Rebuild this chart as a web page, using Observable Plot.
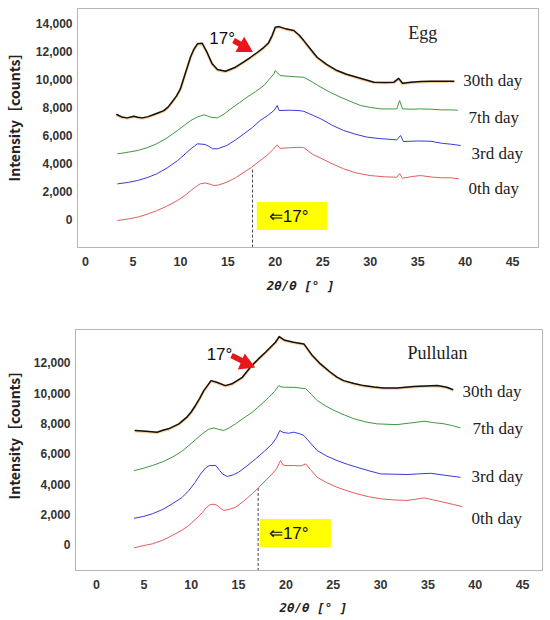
<!DOCTYPE html>
<html>
<head>
<meta charset="utf-8">
<script src="https://cdn.jsdelivr.net/npm/d3@7"></script>
<script src="https://cdn.jsdelivr.net/npm/@observablehq/plot@0.6"></script>
<style>
  body { margin: 0; background: #fff; }
  #wrap { position: relative; width: 550px; height: 620px; overflow: hidden; }
  #top, #bot { position: absolute; left: 0; }
  #top { top: 0; }
  #bot { top: 310px; }
</style>
</head>
<body>
<div id="wrap"><div id="top"></div><div id="bot"></div></div>
<script>
// ---------- data (2θ in degrees, intensity in counts, with stacking offsets as plotted) ----------
const xTicks = [0, 5, 10, 15, 20, 25, 30, 35, 40, 45];
const eggYTicks = [0, 2000, 4000, 6000, 8000, 10000, 12000, 14000];
const pulYTicks = [0, 2000, 4000, 6000, 8000, 10000, 12000];
const seriesNames = ["0th day", "3rd day", "7th day", "30th day"];

const egg0 = [[3.4,0],[4.5,110],[5.5,240],[6.5,450],[7.5,700],[8.5,1000],[9.7,1430],[10.5,1800],[11.1,2140],[11.7,2450],[12.1,2620],[12.6,2680],[13.0,2620],[13.5,2500],[14.0,2530],[14.9,2740],[15.8,3050],[16.7,3450],[17.5,3800],[18.4,4280],[19.2,4700],[19.8,5100],[20.2,5400],[20.5,5150],[21.5,5200],[22.5,5230],[23.0,5200],[24.0,4700],[24.8,4450],[26.0,4050],[27.2,3690],[28.5,3400],[30.0,3210],[31.5,3120],[32.8,3090],[33.1,3350],[33.4,3020],[34.5,3150],[35.3,3210],[36.5,3100],[37.5,3050],[38.5,3050],[39.3,2980]];
const egg3 = [[3.4,2620],[4.5,2720],[5.5,2860],[6.5,3060],[7.5,3330],[8.6,3750],[9.7,4280],[10.5,4750],[11.1,5120],[11.8,5480],[12.6,5430],[13.0,5300],[13.4,5120],[13.9,5120],[14.9,5360],[15.8,5750],[16.7,6190],[17.6,6650],[18.4,7140],[19.2,7500],[19.85,7850],[20.2,8210],[20.4,7850],[21.5,7880],[22.5,7850],[23.0,7800],[24.0,7500],[24.8,7260],[26.0,6800],[27.2,6430],[28.5,6150],[29.7,5950],[31.0,5850],[32.8,5760],[33.2,6070],[33.5,5640],[35.0,5680],[36.4,5660],[37.5,5520],[38.5,5450],[39.5,5360]];
const egg7 = [[3.4,4760],[4.5,4880],[5.5,5000],[6.5,5200],[7.5,5480],[8.6,5900],[9.7,6430],[10.5,6850],[11.1,7140],[11.8,7400],[12.5,7550],[13.2,7380],[13.9,7330],[14.6,7600],[15.3,7970],[16.2,8400],[17.0,8800],[17.9,9200],[18.8,9640],[19.5,10200],[19.85,10470],[20.0,10710],[20.5,10350],[21.5,10300],[22.5,10250],[23.0,10230],[24.0,9850],[24.8,9520],[25.8,9150],[26.9,8800],[28.0,8480],[29.0,8210],[30.0,8080],[31.1,7970],[32.8,7970],[33.1,8570],[33.4,7970],[34.5,7950],[35.3,7970],[36.5,7950],[37.5,7900],[38.5,7900],[39.2,7880]];
const egg30 = [[3.3,7570],[3.8,7400],[4.4,7330],[5.1,7450],[5.5,7380],[6.0,7330],[6.6,7420],[7.2,7570],[7.7,7700],[8.25,7850],[8.7,8100],[9.1,8450],[9.6,8900],[10.0,9400],[10.5,10470],[11.06,11660],[11.4,12200],[11.8,12620],[12.3,12660],[12.8,12020],[13.35,11190],[13.9,10780],[14.75,10660],[15.8,10950],[16.6,11300],[17.4,11660],[18.1,12000],[18.8,12370],[19.3,12700],[19.67,13210],[20.0,13800],[20.4,13850],[21.1,13690],[21.95,13570],[22.5,13250],[23.0,12850],[23.7,12250],[24.4,11660],[25.4,11150],[26.5,10710],[27.5,10450],[28.6,10230],[29.5,10050],[30.4,9880],[31.5,9860],[32.5,9880],[33.0,10150],[33.4,9800],[34.3,9880],[35.3,9920],[36.5,9950],[37.7,9950],[38.8,9950]];

const pul0 = [[4.0,-150],[5.0,0],[5.9,110],[7.0,350],[8.0,660],[9.0,1000],[9.75,1320],[10.5,1750],[11.2,2190],[11.6,2500],[12.0,2700],[12.4,2720],[12.74,2640],[13.1,2450],[13.44,2310],[14.0,2380],[14.68,2520],[15.5,2900],[16.44,3410],[17.14,3840],[17.8,4250],[18.55,4720],[19.0,5050],[19.43,5600],[19.7,5300],[20.0,5270],[20.8,5270],[21.6,5250],[22.1,5380],[22.6,5000],[23.3,4500],[24.3,4150],[25.4,3840],[26.5,3600],[27.5,3410],[28.7,3220],[30.0,3080],[31.5,3000],[32.8,2970],[33.7,3050],[34.6,3140],[35.6,3000],[36.7,2850],[37.7,2700],[38.6,2570]];
const pul3 = [[4.0,1800],[5.0,1920],[5.9,2090],[7.0,2380],[8.0,2750],[9.0,3150],[9.75,3620],[10.4,4150],[11.0,4720],[11.5,5100],[11.9,5270],[12.6,5270],[13.0,4950],[13.3,4720],[13.8,4550],[14.4,4650],[15.0,4830],[15.9,5250],[16.8,5710],[17.7,6200],[18.55,6700],[19.0,7100],[19.36,7580],[19.7,7450],[20.3,7400],[20.8,7470],[21.4,7380],[21.9,7250],[22.6,6750],[23.3,6260],[24.3,5900],[25.4,5600],[26.5,5350],[27.5,5160],[28.8,4920],[30.0,4720],[31.4,4700],[32.8,4680],[34.0,4720],[35.3,4760],[36.8,4630],[38.4,4500]];
const pul7 = [[4.0,4940],[5.0,5100],[5.9,5270],[7.0,5520],[8.0,5820],[9.0,6200],[9.75,6590],[10.5,7000],[11.16,7360],[11.8,7650],[12.4,7750],[12.9,7650],[13.44,7580],[14.0,7750],[14.68,8020],[15.5,8380],[16.44,8780],[17.3,9250],[18.2,9770],[18.8,10150],[19.25,10540],[19.5,10450],[20.0,10430],[20.8,10430],[21.5,10380],[22.1,10330],[22.7,9950],[23.3,9560],[24.2,9200],[25.1,8900],[26.2,8600],[27.2,8350],[28.4,8150],[29.6,8020],[30.7,7990],[31.75,7970],[33.2,8080],[34.6,8190],[35.6,8100],[36.7,8020],[37.6,7900],[38.4,7760]];
const pul30 = [[4.1,7580],[5.2,7530],[6.4,7470],[7.0,7600],[7.6,7690],[8.7,8020],[9.6,8500],[10.0,8800],[10.45,9230],[10.9,9700],[11.33,10210],[12.1,10870],[12.7,10760],[13.6,10540],[14.3,10660],[15.4,11090],[16.4,11860],[17.1,12300],[17.85,12740],[18.9,13400],[19.3,13770],[19.8,13550],[20.8,13400],[21.9,13290],[22.8,12520],[23.65,11970],[24.7,11420],[25.4,11100],[26.1,10870],[27.2,10680],[28.2,10540],[29.3,10450],[30.3,10390],[31.75,10390],[33.5,10480],[34.7,10520],[36.0,10540],[37.0,10430],[37.6,10280]];

const markerAngle = 17;           // the 17° annotation
const eggMarkX = 17.6, pulMarkX = 17.07;   // where the dashed guide is drawn in each panel

// ---------- drawing ----------
const colors = ["#e65b5b", "#3a3ad8", "#3f983f"];
const tickFont = "'Liberation Sans', Arial, sans-serif";
const serif = "'Liberation Serif', 'Times New Roman', serif";

function panel(p) {
  const X = d => d[0], Y = d => d[1];
  const lbl = p.labels;
  return Plot.plot({
    width: 550, height: p.height,
    marginLeft: p.ml, marginRight: p.mr, marginTop: p.mt, marginBottom: p.mb,
    style: {background: "#fff", overflow: "visible"},
    x: {domain: p.xd, label: null},
    y: {domain: p.yd, label: null},
    marks: [
      Plot.axisX({ticks: xTicks, tickSize: 0, tickPadding: 10, fontSize: 12.5, fontWeight: "bold", fontFamily: tickFont, fill: "#333", label: null}),
      Plot.axisY({ticks: p.yTicks, tickSize: 0, tickPadding: 5, tickFormat: d3.format(","), fontSize: 12, fontWeight: "bold", fontFamily: tickFont, fill: "#333", label: null}),
      Plot.frame({stroke: "#b5b5b5"}),
      // yellow box + label
      Plot.rect([0], {x1: p.box[0], x2: p.box[1], y1: p.box[2], y2: p.box[3], fill: "#ffff00"}),
      Plot.text([`⇐${markerAngle}°`], {x: p.boxText[0], y: p.boxText[1], text: d => d, fontSize: 17, fontFamily: tickFont, fill: "#111"}),
      // dashed guide
      Plot.ruleX([p.markX], {y1: p.markY, y2: p.yd[0], stroke: "#444", strokeWidth: 1, strokeDasharray: "3,2"}),
      // series
      Plot.line(p.s[0], {x: X, y: Y, stroke: colors[0], strokeWidth: 1}),
      Plot.line(p.s[1], {x: X, y: Y, stroke: colors[1], strokeWidth: 1}),
      Plot.line(p.s[2], {x: X, y: Y, stroke: colors[2], strokeWidth: 1}),
      Plot.line(p.s[3], {x: X, y: Y, stroke: "#f3b35a", strokeWidth: 2.6, strokeOpacity: 0.6, dy: 0.6}),
      Plot.line(p.s[3], {x: X, y: Y, stroke: "#111", strokeWidth: 1.5}),
      // red arrow
      Plot.link([0], {x1: p.arrow[0], y1: p.arrow[1], x2: p.arrow[2], y2: p.arrow[3], stroke: "#e8161b", strokeWidth: 5.5}),
      Plot.dot([0], {x: p.arrow[4], y: p.arrow[5], symbol: "triangle", r: 6.5, fill: "#e8161b", rotate: p.arrow[6]}),
      Plot.text([`${markerAngle}°`], {x: p.t17[0], y: p.t17[1], text: d => d, fontSize: 17, fontFamily: tickFont, fill: "#111"}),
      // panel & series labels
      Plot.text([p.title], {x: p.titlePos[0], y: p.titlePos[1], text: d => d, textAnchor: "start", fontSize: 18, fontFamily: serif, fill: "#222"}),
      Plot.text(seriesNames, {x: (d, i) => lbl[i][0], y: (d, i) => lbl[i][1], text: d => d, textAnchor: "start", fontSize: 17, fontFamily: serif, fill: "#222"}),
      // axis titles
      Plot.text(["2θ/θ [° ]"], {x: p.xTitleX, frameAnchor: "bottom", dy: p.xTitleDy, textAnchor: "middle", lineAnchor: "middle", text: d => d, fontSize: 12.5, fontWeight: "bold", fontStyle: "italic", fontFamily: "'DejaVu Sans Mono', monospace", fill: "#222"}),
      Plot.text(["Intensity［counts］"], {y: p.yTitleY, frameAnchor: "left", dx: p.yTitleDx, rotate: -90, textAnchor: "middle", lineAnchor: "middle", text: d => d, fontSize: 14, fontWeight: "bold", fontFamily: "'Noto Sans CJK JP', 'Noto Sans', sans-serif", fill: "#222"})
    ]
  });
}

document.getElementById("top").append(panel({
  height: 305, ml: 77, mr: 12, mt: 8, mb: 58,
  xd: [-0.84, 47.73], yd: [-1929, 15143], yTicks: eggYTicks,
  s: [egg0, egg3, egg7, egg30],
  box: [18.1, 25.5, -710, 1290], boxText: [21.4, 290],
  markX: eggMarkX, markY: 3600,
  arrow: [15.6, 12857, 16.44, 12536, 16.72, 12400, 120],
  t17: [14.4, 13000],
  title: "Egg", titlePos: [34.0, 13360],
  labels: [[40.36, 2290], [40.67, 4790], [40.36, 7360], [39.8, 10000]],
  xTitleX: 22.66, xTitleDy: 38, yTitleY: 7640, yTitleDx: -62
}));

document.getElementById("bot").append(panel({
  height: 310, ml: 75, mr: 8, mt: 19, mb: 50,
  xd: [-2.22, 47.1], yd: [-1648, 14239], yTicks: pulYTicks,
  s: [pul0, pul3, pul7, pul30],
  box: [17.3, 24.8, -130, 1710], boxText: [20.3, 790],
  markX: pulMarkX, markY: 3760,
  arrow: [14.26, 12520, 15.52, 12126, 15.78, 12000, 113],
  t17: [12.99, 12590],
  title: "Pullulan", titlePos: [32.84, 12650],
  labels: [[39.6, 1780], [39.6, 4550], [39.7, 7710], [38.65, 10150]],
  xTitleX: 22.9, xTitleDy: 37, yTitleY: 7510, yTitleDx: -60
}));
</script>
</body>
</html>
